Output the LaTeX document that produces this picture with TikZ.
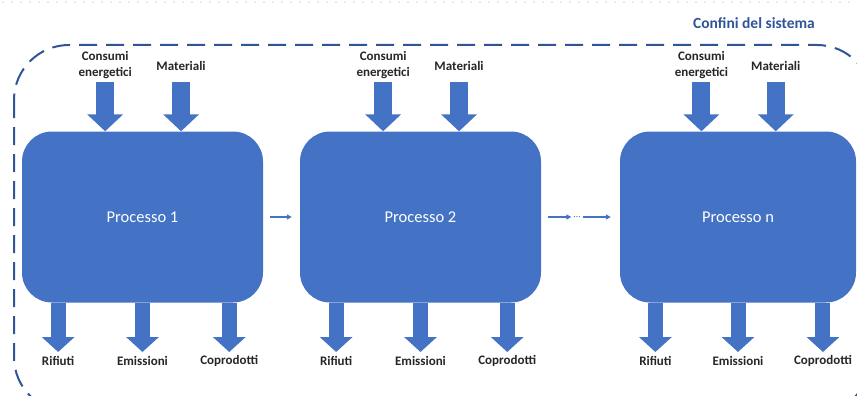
\documentclass[tikz,border=0pt]{standalone}
\usepackage{fontspec}
\setmainfont{Carlito}
\usepackage{xcolor}
\usetikzlibrary{arrows.meta}
\definecolor{procblue}{HTML}{4472C4}
\definecolor{bordblue}{HTML}{2F5597}
\definecolor{labgray}{HTML}{262626}

\begin{document}
\begin{tikzpicture}[x=1pt,y=-1pt,
  proc/.style={fill=procblue, rounded corners=30pt, minimum width=#1, minimum height=171pt,
    inner sep=0pt, text=white, font=\fontsize{16.5}{18}\selectfont},
  lab/.style={text=labgray, inner sep=0pt, align=center, font=\bfseries\fontsize{13}{16}\selectfont},
  inarrow/.style={procblue, line width=18pt, -{Triangle[width=35pt,length=17pt]}},
  outarrow/.style={procblue, line width=15pt, -{Triangle[width=32pt,length=15pt]}},
  flow/.style={procblue, line width=1.3pt, -{Triangle[width=5pt,length=5pt]}}]
\useasboundingbox (0,0) rectangle (857,396);
\clip (0,0) rectangle (857,396);

% faint dotted rule along the top edge
\draw [gray!35, line width=1.8pt, line cap=round, dash pattern=on 0pt off 9pt] (3,2) -- (857,2);

% system boundary
\draw [bordblue, line width=2pt, dash pattern=on 18pt off 9pt, rounded corners=55pt] (14,45) rectangle (872,412);
\node [text=bordblue, font=\bfseries\fontsize{15.5}{18}\selectfont] (conf) at (754,23) {Confini del sistema};

\coordinate (intop) at (0,82);
\coordinate (outbot) at (0,352);

% the three processes with their inputs and outputs
\foreach \i/\x/\w/\t in {1/22/241/1, 2/300/241/2, 3/620/236/n} {
  \node [proc=\w pt] (p\i) at (\x+\w/2,217) {Processo \t};
  % inputs
  \node [lab] (ce\i) at (\x+0.345*\w,65) {Consumi\\energetici};
  \node [lab] (ma\i) at (\x+0.66*\w,66) {Materiali};
  \draw [inarrow] (ce\i |- intop) -- (ce\i |- p\i.north);
  \draw [inarrow] (ma\i |- intop) -- (ma\i |- p\i.north);
  % outputs
  \node [lab] (rf\i) at (\x+0.15*\w,361) {Rifiuti};
  \node [lab] (em\i) at (\x+0.5*\w,361) {Emissioni};
  \node [lab] (cp\i) at (\x+0.86*\w,361) {Coprodotti};
  \draw [outarrow] (rf\i |- p\i.south) -- (rf\i |- outbot);
  \draw [outarrow] (em\i |- p\i.south) -- (em\i |- outbot);
  \draw [outarrow] (cp\i |- p\i.south) -- (cp\i |- outbot);
}

% links between processes
\node [text=procblue, inner sep=2pt] (dots) at (577,217) {\dots};
\draw [flow, shorten <=7pt, shorten >=8pt] (p1) -- (p2);
\draw [flow, shorten <=7pt] (p2) -- (dots);
\draw [flow, shorten >=9pt] (dots) -- (p3);
\end{tikzpicture}
\end{document}
